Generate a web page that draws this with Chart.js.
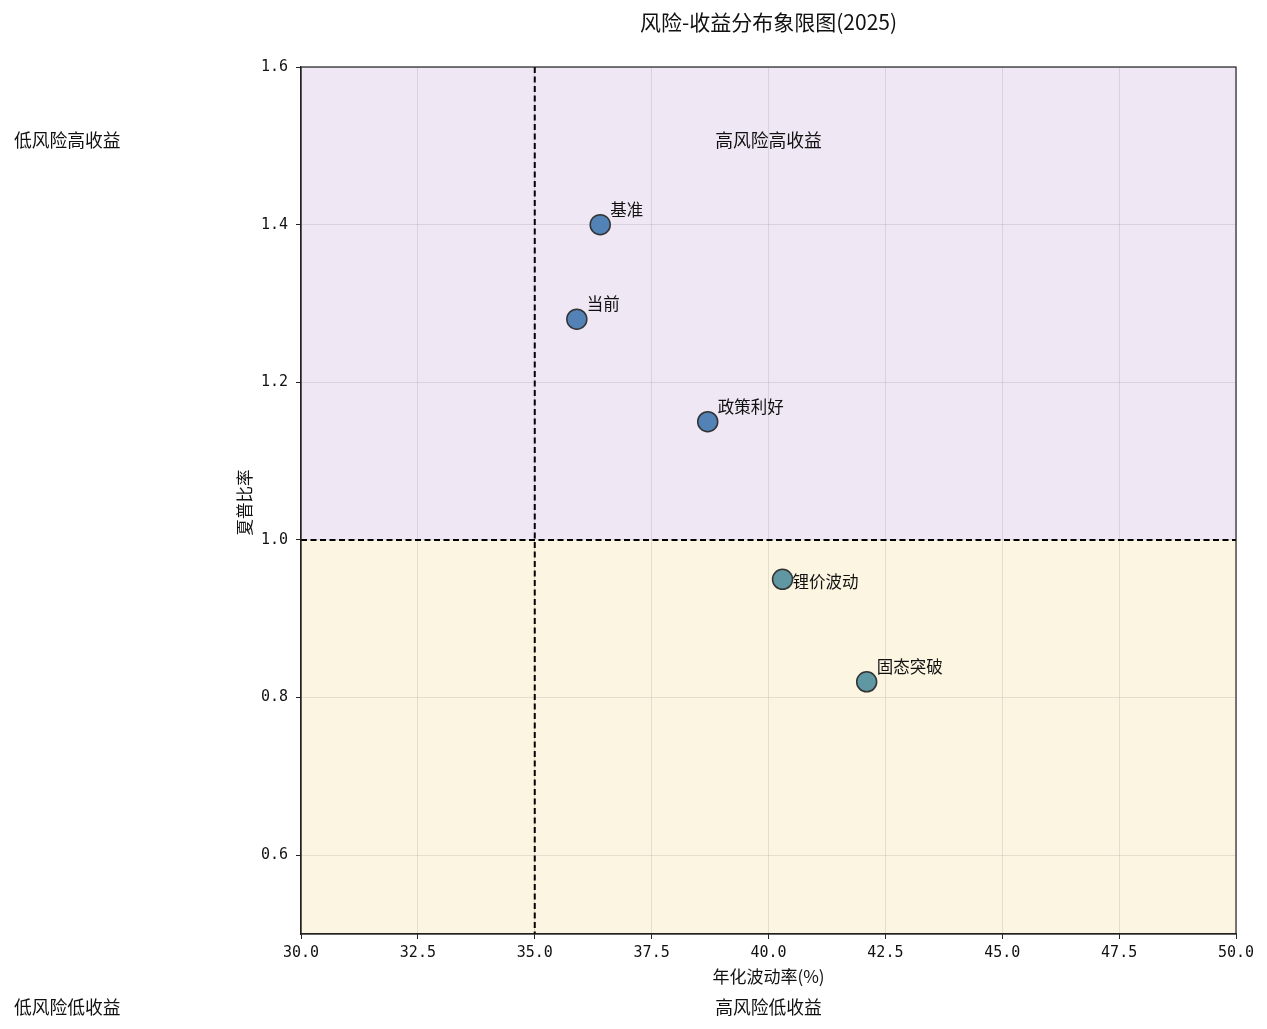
<!DOCTYPE html>
<html>
<head>
<meta charset="utf-8">
<script src="https://cdn.jsdelivr.net/npm/chart.js@4"></script>
<style>
  body { margin: 0; background: #fff; }
  #wrap { width: 1267px; height: 1029px; }
</style>
</head>
<body>
<div id="wrap"><canvas id="grafico" width="1267" height="1029"></canvas></div>
<script>
// ========= Datos =========
const escenarios = ['基准', '当前', '政策利好', '锂价波动', '固态突破'];
const volatilidad = [36.4, 35.9, 38.7, 40.3, 42.1];
const sharpe = [1.40, 1.28, 1.15, 0.95, 0.82];
const ticksX = [30, 32.5, 35, 37.5, 40, 42.5, 45, 47.5, 50];
const ticksY = [0.6, 0.8, 1.0, 1.2, 1.4, 1.6];
const cuadrantes = ['低风险高收益', '高风险高收益', '低风险低收益', '高风险低收益'];
const cuadrantesX = [25, 40, 25, 40];
const cuadrantesY = [1.5, 1.5, 0.4, 0.4];

const fuente = '"Noto Sans CJK SC", "Noto Sans", sans-serif';
const fuenteNum = '"DejaVu Sans Mono", monospace';

// ========= Plugin de fondo, líneas y textos =========
const decoracion = {
    id: 'decoracion',
    beforeDraw(chart) {
        const { ctx, chartArea: a, scales: { y } } = chart;
        const y1 = y.getPixelForValue(1.0);
        ctx.save();
        ctx.fillStyle = '#efe7f4';
        ctx.fillRect(a.left, a.top, a.right - a.left, y1 - a.top);
        ctx.fillStyle = '#fcf5e1';
        ctx.fillRect(a.left, y1, a.right - a.left, a.bottom - y1);
        ctx.restore();
    },
    beforeDatasetsDraw(chart) {
        const { ctx, chartArea: a, scales: { x, y } } = chart;
        const x35 = x.getPixelForValue(35);
        const y1 = y.getPixelForValue(1.0);
        ctx.save();
        ctx.strokeStyle = '#000';
        ctx.lineWidth = 2;
        ctx.setLineDash([6, 3.5]);
        ctx.beginPath();
        ctx.moveTo(x35, a.top); ctx.lineTo(x35, a.bottom);
        ctx.moveTo(a.left, y1); ctx.lineTo(a.right, y1);
        ctx.stroke();
        ctx.restore();
    },
    afterDraw(chart) {
        const { ctx, chartArea: a, scales: { x, y } } = chart;
        ctx.save();
        // marco
        ctx.strokeStyle = '#222';
        ctx.lineWidth = 1.2;
        ctx.strokeRect(a.left, a.top, a.right - a.left, a.bottom - a.top);

        // etiquetas de puntos
        ctx.fillStyle = '#111';
        ctx.font = '16.5px ' + fuente;
        ctx.textAlign = 'left';
        ctx.textBaseline = 'middle';
        escenarios.forEach((nombre, i) => {
            const px = x.getPixelForValue(volatilidad[i]);
            const py = y.getPixelForValue(sharpe[i]);
            const dy = nombre === '锂价波动' ? 2 : -15;
            ctx.fillText(nombre, px + 10, py + dy);
        });

        // textos de cuadrantes (línea base en el valor)
        ctx.font = '17.8px ' + fuente;
        ctx.textAlign = 'center';
        ctx.textBaseline = 'alphabetic';
        cuadrantes.forEach((t, i) => {
            ctx.fillText(t, x.getPixelForValue(cuadrantesX[i]), y.getPixelForValue(cuadrantesY[i]) + 1);
        });

        // título
        ctx.textBaseline = 'middle';
        ctx.font = '21px ' + fuente;
        ctx.fillText('风险-收益分布象限图(2025)', (a.left + a.right) / 2, 22);

        // ejes
        ctx.font = '17px ' + fuente;
        ctx.fillText('年化波动率(%)', (a.left + a.right) / 2, 977);
        ctx.translate(245, (a.top + a.bottom) / 2 + 2);
        ctx.rotate(-Math.PI / 2);
        ctx.font = '16.5px ' + fuente;
        ctx.fillText('夏普比率', 0, 0);
        ctx.restore();
    }
};

// ========= Gráfico =========
const ctxG = document.getElementById('grafico').getContext('2d');
new Chart(ctxG, {
    type: 'scatter',
    data: {
        datasets: [{
            data: escenarios.map((_, i) => ({ x: volatilidad[i], y: sharpe[i] })),
            backgroundColor: c => (sharpe[c.dataIndex] >= 1 ? '#5282b6' : '#5f97a2'),
            borderColor: '#333',
            borderWidth: 1.5,
            pointRadius: 10,
            pointHoverRadius: 10
        }]
    },
    plugins: [decoracion],
    options: {
        responsive: false,
        animation: false,
        layout: { padding: { top: 67, right: 31, left: 0, bottom: 0 } },
        plugins: { legend: { display: false }, title: { display: false }, tooltip: { enabled: false } },
        scales: {
            x: {
                type: 'linear', min: 30, max: 50,
                afterBuildTicks: s => { s.ticks = ticksX.map(v => ({ value: v })); },
                afterFit: s => { s.height = 95; },
                ticks: { color: '#111', font: { size: 15, family: fuenteNum }, padding: 5, maxRotation: 0, callback: v => v.toFixed(1) },
                grid: { color: 'rgba(0,0,0,0.09)', tickColor: '#222', tickLength: 5 },
                border: { color: '#222', width: 1.2 }
            },
            y: {
                type: 'linear', min: 0.5, max: 1.6,
                afterBuildTicks: s => { s.ticks = ticksY.map(v => ({ value: v })); },
                afterFit: s => { s.width = 301; },
                ticks: { color: '#111', font: { size: 15, family: fuenteNum }, padding: 8, callback: v => v.toFixed(1) },
                grid: { color: 'rgba(0,0,0,0.09)', tickColor: '#222', tickLength: 5 },
                border: { color: '#222', width: 1.2 }
            }
        }
    }
});
</script>
</body>
</html>
